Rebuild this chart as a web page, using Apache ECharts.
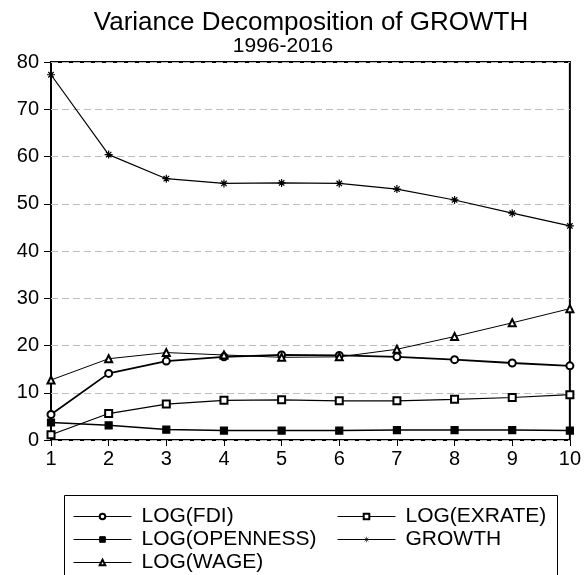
<!DOCTYPE html>
<html>
<head>
<meta charset="utf-8">
<title>Variance Decomposition of GROWTH</title>
<script src="https://cdn.jsdelivr.net/npm/echarts@6/dist/echarts.min.js"></script>
<style>
    html, body { margin: 0; padding: 0; background: #fff; }
    #chart { width: 584px; height: 575px; }
</style>
</head>
<body>
<div id="chart"></div>
<script>
    // periods on the x axis
    const periods = ['1', '2', '3', '4', '5', '6', '7', '8', '9', '10'];

    // variance shares (%)
    const logFdi = [5.4, 14.1, 16.7, 17.6, 18.0, 17.9, 17.6, 17.0, 16.3, 15.7];
    const logExrate = [1.1, 5.6, 7.6, 8.4, 8.5, 8.3, 8.3, 8.6, 9.0, 9.6];
    const logOpenness = [3.7, 3.1, 2.2, 2.0, 2.0, 2.0, 2.1, 2.1, 2.1, 2.0];
    const growth = [77.3, 60.4, 55.3, 54.3, 54.4, 54.3, 53.1, 50.8, 48.0, 45.3];
    const logWage = [12.7, 17.2, 18.5, 18.0, 17.5, 17.6, 19.2, 21.9, 24.8, 27.8];

    const FONT = 'Arial, "Liberation Sans", sans-serif';
    const asterisk = 'path://M5,0L5,10M0,5L10,5M1.6,1.6L8.4,8.4M1.6,8.4L8.4,1.6';

    function makeLine(name, data, symbol, size, width) {
        return {
            name,
            type: 'line',
            data,
            symbol,
            symbolSize: size,
            showAllSymbol: true,
            lineStyle: { color: '#000', width },
            itemStyle: { color: '#000', borderColor: '#000', borderWidth: 1.2 },
            emphasis: { disabled: true },
            z: 3
        };
    }

    const chart = echarts.init(document.getElementById('chart'), null, { renderer: 'canvas' });

    const legendText = { color: '#000', fontSize: 21, fontFamily: FONT, lineHeight: 23, padding: [0, 0, 0, 5] };
    const legendBase = {
        orient: 'vertical', top: 505, padding: 0, itemGap: 0,
        itemWidth: 58, itemHeight: 7, selectedMode: false, textStyle: legendText,
        lineStyle: { width: 1 },
        itemStyle: { borderWidth: 1, borderColor: '#000' }
    };

    chart.setOption({
        animation: false,
        backgroundColor: '#fff',
        graphic: [
            {
                type: 'text', x: 311, y: 23,
                style: { text: 'Variance Decomposition of GROWTH', fill: '#000', font: '26px ' + FONT, align: 'center', verticalAlign: 'middle' }
            },
            {
                type: 'text', x: 283, y: 46,
                style: { text: '1996-2016', fill: '#000', font: '21px ' + FONT, align: 'center', verticalAlign: 'middle' }
            },
            {
                type: 'rect', shape: { x: 64.5, y: 495.5, width: 493, height: 120 },
                style: { fill: 'none', stroke: '#000', lineWidth: 1 }
            }
        ],
        grid: {
            left: 51, right: 13, top: 62, bottom: 135,
            show: true, borderColor: '#000', borderWidth: 2, backgroundColor: 'transparent'
        },
        xAxis: {
            type: 'category',
            data: periods,
            boundaryGap: false,
            axisLine: { show: false },
            axisTick: { show: true, inside: false, length: 6, alignWithLabel: true, lineStyle: { color: '#000', width: 1 } },
            axisLabel: { color: '#000', fontSize: 20, fontFamily: FONT, margin: 9 },
            splitLine: { show: false }
        },
        yAxis: {
            type: 'value',
            min: 0, max: 80, interval: 10,
            axisLine: { show: false },
            axisTick: { show: true, inside: false, length: 7, lineStyle: { color: '#000', width: 1 } },
            axisLabel: { color: '#000', fontSize: 20, fontFamily: FONT, margin: 12 },
            splitLine: { show: true, lineStyle: { color: '#bdbdbd', type: [7, 4], width: 1 } }
        },
        legend: [
            Object.assign({ data: ['LOG(FDI)', 'LOG(OPENNESS)', 'LOG(WAGE)'], left: 73 }, legendBase),
            Object.assign({
                data: ['LOG(EXRATE)', { name: 'GROWTH', itemStyle: { borderWidth: 0.6 } }],
                left: 337
            }, legendBase)
        ],
        series: [
            makeLine('LOG(FDI)', logFdi, 'emptyCircle', 7, 1.8),
            makeLine('LOG(EXRATE)', logExrate, 'emptyRect', 7, 1.2),
            makeLine('LOG(OPENNESS)', logOpenness, 'rect', 7, 1.5),
            makeLine('GROWTH', growth, asterisk, 8, 1.2),
            makeLine('LOG(WAGE)', logWage, 'emptyTriangle', 7, 1)
        ]
    });
</script>
</body>
</html>
